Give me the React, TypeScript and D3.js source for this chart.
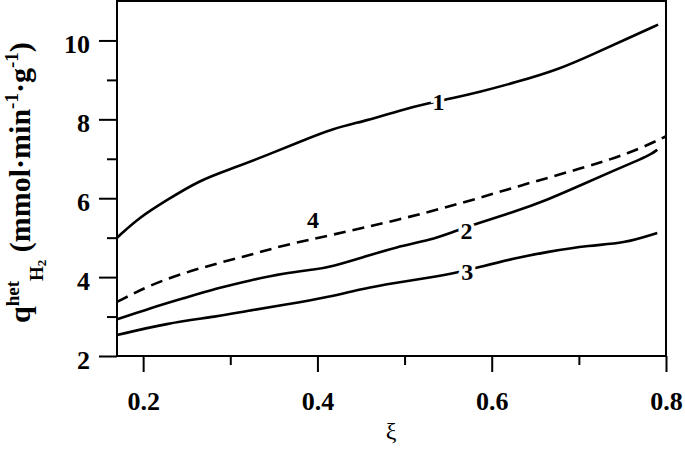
import React, { useRef, useEffect } from 'react';
import * as d3 from 'd3';

// curve 1
const xi1 = [0.17, 0.196, 0.227, 0.265, 0.303, 0.342, 0.38, 0.418, 0.457, 0.495, 0.53, 0.552, 0.587, 0.625, 0.679, 0.717, 0.755, 0.791];
const q1 = [5.0, 5.52, 5.95, 6.46, 6.76, 7.09, 7.43, 7.77, 7.97, 8.23, 8.42, 8.52, 8.7, 8.92, 9.28, 9.66, 10.04, 10.4];

// curve 2
const xi2 = [0.17, 0.208, 0.246, 0.285, 0.323, 0.361, 0.399, 0.415, 0.452, 0.491, 0.53, 0.556, 0.583, 0.625, 0.663, 0.702, 0.741, 0.771, 0.784, 0.79];
const q2 = [2.93, 3.21, 3.46, 3.72, 3.92, 4.1, 4.2, 4.26, 4.5, 4.77, 4.94, 5.15, 5.36, 5.65, 5.95, 6.33, 6.71, 6.99, 7.13, 7.23];

// curve 3
const xi3 = [0.17, 0.227, 0.285, 0.323, 0.361, 0.415, 0.452, 0.491, 0.53, 0.56, 0.587, 0.625, 0.663, 0.713, 0.751, 0.79];
const q3 = [2.53, 2.83, 3.0, 3.16, 3.29, 3.5, 3.71, 3.86, 3.99, 4.11, 4.26, 4.47, 4.64, 4.81, 4.85, 5.12];

// curve 4 (dashed)
const xi4 = [0.17, 0.208, 0.246, 0.285, 0.323, 0.361, 0.415, 0.491, 0.567, 0.634, 0.702, 0.759, 0.8];
const q4 = [3.37, 3.8, 4.1, 4.35, 4.56, 4.81, 5.06, 5.44, 5.88, 6.33, 6.75, 7.14, 7.57];

const curveLabels = ['1', '2', '3', '4'];
const labelX = [0.539, 0.571, 0.572, 0.395];
const labelY = [8.45, 5.17, 4.13, 5.45];

const xMajor = [0.2, 0.4, 0.6, 0.8];
const xMinor = [0.3, 0.5, 0.7];
const yMajor = [2, 4, 6, 8, 10];
const yMinor = [3, 5, 7, 9];

const W = 685;
const H = 451;
const FONT = '"Liberation Serif", "Times New Roman", serif';

const App = () => {
  const svgRef = useRef(null);

  useEffect(() => {
    const svg = d3.select(svgRef.current);
    svg.selectAll('*').remove();

    const left = 117, right = 666, top = 1, bottom = 356;
    const x = d3.scaleLinear().domain([0.17, 0.8]).range([left, right]);
    const y = d3.scaleLinear().domain([2, 11]).range([bottom, top]);

    // basis smooths out the reading noise
    const line = d3.line()
      .x(d => x(d[0]))
      .y(d => y(d[1]))
      .curve(d3.curveBasis);

    const series = [
      { xs: xi1, ys: q1, dash: null },
      { xs: xi2, ys: q2, dash: null },
      { xs: xi3, ys: q3, dash: null },
      { xs: xi4, ys: q4, dash: '12,7' },
    ];

    series.forEach(s => {
      svg.append('path')
        .datum(s.xs.map((v, i) => [v, s.ys[i]]))
        .attr('d', line)
        .attr('fill', 'none')
        .attr('stroke', '#000')
        .attr('stroke-width', 2.6)
        .attr('stroke-dasharray', s.dash);
    });

    // curve numbers, white halo cuts the line
    curveLabels.forEach((t, i) => {
      svg.append('text')
        .attr('x', x(labelX[i]))
        .attr('y', y(labelY[i]))
        .attr('dy', '0.35em')
        .attr('text-anchor', 'middle')
        .attr('font-family', FONT)
        .attr('font-weight', 'bold')
        .attr('font-size', 24)
        .attr('stroke', '#fff')
        .attr('stroke-width', 7)
        .attr('paint-order', 'stroke')
        .attr('fill', '#000')
        .text(t);
    });

    // frame
    svg.append('rect')
      .attr('x', left).attr('y', top)
      .attr('width', right - left).attr('height', bottom - top)
      .attr('fill', 'none')
      .attr('stroke', '#000')
      .attr('stroke-width', 2);

    // x axis
    const xAx = d3.axisBottom(x).tickValues(xMajor).tickSize(16).tickFormat(d3.format('.1f'));
    const gx = svg.append('g').attr('transform', `translate(0,${bottom})`).call(xAx);
    gx.select('.domain').remove();
    gx.selectAll('line').attr('stroke-width', 2);
    gx.selectAll('text')
      .attr('y', 54)
      .attr('dy', 0)
      .attr('font-family', FONT)
      .attr('font-weight', 'bold')
      .attr('font-size', 26)
      .attr('fill', '#000');
    const gxm = svg.append('g').attr('transform', `translate(0,${bottom})`)
      .call(d3.axisBottom(x).tickValues(xMinor).tickSize(9).tickFormat(() => ''));
    gxm.select('.domain').remove();
    gxm.selectAll('line').attr('stroke-width', 2);

    // y axis
    const yAx = d3.axisLeft(y).tickValues(yMajor).tickSize(18).tickFormat(d3.format('d'));
    const gy = svg.append('g').attr('transform', `translate(${left},0)`).call(yAx);
    gy.select('.domain').remove();
    gy.selectAll('line').attr('stroke-width', 2);
    gy.selectAll('text')
      .attr('x', -27)
      .attr('dy', 12)
      .attr('font-family', FONT)
      .attr('font-weight', 'bold')
      .attr('font-size', 26)
      .attr('fill', '#000');
    const gym = svg.append('g').attr('transform', `translate(${left},0)`)
      .call(d3.axisLeft(y).tickValues(yMinor).tickSize(10).tickFormat(() => ''));
    gym.select('.domain').remove();
    gym.selectAll('line').attr('stroke-width', 2);

    // x title
    svg.append('text')
      .attr('x', 391)
      .attr('y', 439)
      .attr('text-anchor', 'middle')
      .attr('font-family', FONT)
      .attr('font-size', 24)
      .text('ξ');

    // y title
    const yt = svg.append('text')
      .attr('transform', 'translate(30,323) rotate(-90)')
      .attr('font-family', FONT)
      .attr('font-weight', 'bold')
      .attr('font-size', 30);
    yt.append('tspan').text('q');
    yt.append('tspan').attr('dy', -11).attr('font-size', 19).text('het');
    yt.append('tspan').attr('dy', 24).attr('font-size', 19).text('H');
    yt.append('tspan').attr('dy', 3).attr('font-size', 13).text('2');
    yt.append('tspan').attr('dy', -16).text('\u00a0(mmol·min');
    yt.append('tspan').attr('dy', -12).attr('font-size', 19).text('-1');
    yt.append('tspan').attr('dy', 12).text('·g');
    yt.append('tspan').attr('dy', -12).attr('font-size', 19).text('-1');
    yt.append('tspan').attr('dy', 12).text(')');
  }, []);

  return (
    <svg
      ref={svgRef}
      width={W}
      height={H}
      style={{ position: 'absolute', left: 0, top: 0, background: '#fff' }}
    />
  );
};

export default App;
